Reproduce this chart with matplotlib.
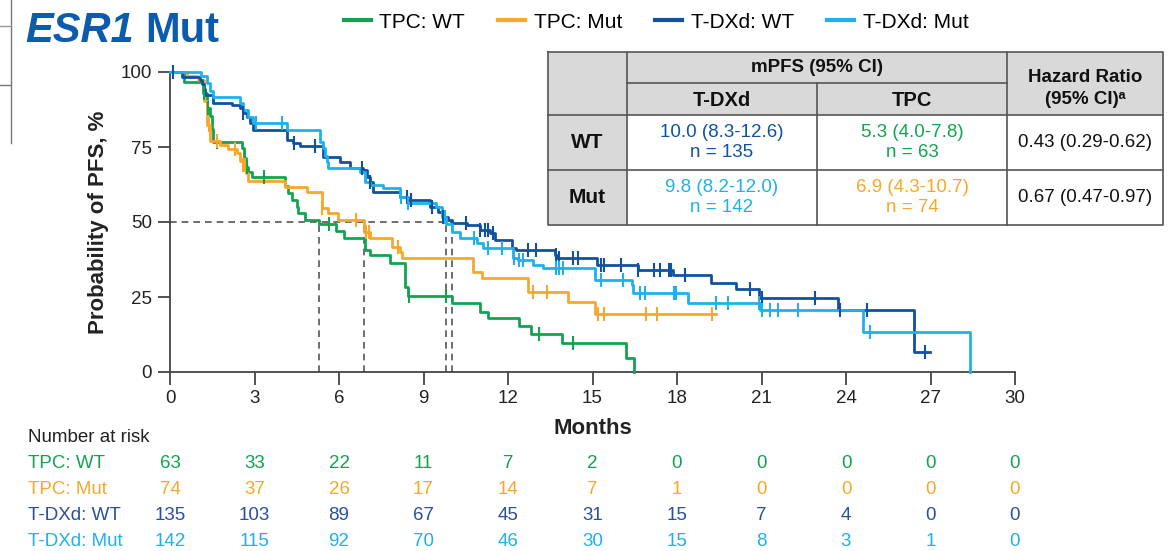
import matplotlib
import numpy as np

matplotlib.use("Agg")
import matplotlib.pyplot as plt
from matplotlib.patches import Rectangle
from matplotlib.lines import Line2D
from matplotlib.transforms import blended_transform_factory

plt.rcParams["font.family"] = ["Liberation Sans", "DejaVu Sans"]

GREEN = "#12a350"
ORANGE = "#f8a828"
DBLUE = "#1152a0"
LBLUE = "#1eb1ea"
TITLE_BLUE = "#0c5cad"

# Kaplan-Meier step data (months, % PFS)
tpc_wt_t = [0, 0.5, 1.16, 1.3, 1.42, 1.48, 1.54, 2.54, 2.62, 2.7, 2.78, 2.9, 4.08, 4.2, 4.32, 4.5, 4.56,
            4.8, 5.3, 5.9, 6.16, 6.92, 7.1, 7.8, 8.34, 8.46, 10.0, 11.0, 11.3, 12.4, 12.8, 13.9, 16.2, 16.47]
tpc_wt_s = [100, 96.8, 92.9, 87.9, 85.5, 81.1, 76.8, 74.6, 71.4, 68.3, 66.7, 65.1, 61.9, 59.6, 57.3, 55.1, 52.9,
            50.7, 49.2, 47.0, 44.8, 40.7, 38.9, 36.2, 28.4, 25.3, 22.9, 20.1, 17.9, 15.4, 12.7, 9.6, 4.6, 0]
tpc_wt_end = 16.47
tpc_wt_cens = [1.2, 1.35, 1.66, 2.66, 2.75, 3.34, 5.65, 8.5, 9.8, 13.1, 14.3]

tpc_mut_t = [0, 0.6, 1.0, 1.2, 1.3, 1.42, 1.78, 2.07, 2.37, 2.48, 2.6, 2.7, 2.78, 4.08, 4.85, 5.38, 5.62,
             5.98, 6.9, 7.1, 7.87, 8.16, 8.22, 10.77, 11.07, 12.72, 14.14, 15.09]
tpc_mut_s = [100, 98.6, 97.3, 90.5, 82.4, 77.0, 75.7, 74.3, 73.0, 70.3, 68.9, 66.2, 63.8, 61.8, 60.1, 54.6, 52.9,
             50.7, 46.8, 44.6, 41.8, 40.1, 38.1, 33.4, 31.2, 26.8, 23.4, 19.2]
tpc_mut_end = 19.4
tpc_mut_cens = [1.4, 1.66, 2.3, 2.6, 2.68, 5.4, 6.6, 6.95, 7.05, 8.1, 12.9, 13.4, 15.2, 15.4, 16.9, 17.3, 19.25]

tdxd_wt_t = [0, 0.41, 1.06, 1.12, 1.2, 1.24, 1.54, 2.19, 2.48, 2.6, 2.72, 2.84, 2.94, 4.14, 4.38, 4.6, 5.44,
             6.03, 6.39, 6.86, 6.98, 7.1, 7.22, 8.16, 8.46, 9.23, 9.52, 9.7, 9.88, 10.0, 10.53, 11.0, 11.36,
             11.54, 12.13, 12.3, 13.67, 13.73, 15.15, 16.6, 17.87, 19.2, 20.1, 20.9, 23.7, 26.4]
tdxd_wt_s = [100, 98.4, 97.5, 96.0, 94.5, 92.3, 89.6, 88.9, 88.0, 86.2, 85.0, 82.9, 80.7, 77.3, 76.2, 75.3, 71.8,
             70.0, 67.9, 67.2, 65.1, 63.2, 60.1, 58.4, 57.3, 55.1, 53.5, 51.8, 50.7, 49.8, 49.0, 47.5, 46.2,
             44.0, 41.2, 40.8, 39.0, 37.9, 35.7, 34.0, 32.3, 29.8, 27.6, 24.6, 20.7, 6.8]
tdxd_wt_end = 26.98
tdxd_wt_cens = [0.1, 2.6, 4.4, 5.15, 6.8, 7.1, 8.4, 8.55, 9.3, 9.7, 10.5, 11.0, 11.2, 11.3, 11.45, 12.7, 13.0,
                13.7, 13.8, 14.3, 14.5, 15.3, 15.4, 16.0, 16.6, 17.2, 17.4, 17.7, 17.8, 18.3, 20.6, 21.0,
                22.9, 23.8, 24.75, 26.8]

tdxd_mut_t = [0, 1.1, 1.3, 1.42, 1.54, 2.48, 2.6, 2.78, 2.95, 4.14, 5.32, 5.44, 5.5, 5.56, 5.62, 6.74, 6.92,
              7.1, 7.55, 8.16, 8.4, 9.46, 9.65, 9.8, 10.0, 10.3, 10.9, 11.1, 12.19, 12.35, 12.9, 13.25,
              15.09, 16.4, 16.45, 18.4, 20.94, 24.6, 28.4]
tdxd_mut_s = [100, 98.6, 96.5, 93.6, 91.8, 89.6, 87.3, 85.0, 83.1, 80.7, 76.8, 74.6, 72.0, 69.9, 67.9, 66.8, 63.4,
              62.3, 61.2, 58.4, 56.2, 55.1, 51.8, 49.4, 46.8, 44.6, 42.9, 41.2, 37.9, 37.2, 35.7, 34.6,
              30.7, 29.0, 26.4, 22.9, 20.7, 13.4, 0]
tdxd_mut_end = 28.4
tdxd_mut_cens = [3.07, 3.96, 8.2, 8.45, 9.76, 10.8, 11.3, 11.8, 12.2, 12.4, 12.55, 13.7, 13.8, 13.95, 15.3,
                 16.1, 16.7, 16.85, 17.9, 17.95, 19.4, 19.8, 20.9, 21.0, 21.3, 21.6, 22.3, 24.85]

medians = [5.3, 6.9, 9.8, 10.0]

series_labels = ["TPC: WT", "TPC: Mut", "T-DXd: WT", "T-DXd: Mut"]

risk_months = [0, 3, 6, 9, 12, 15, 18, 21, 24, 27, 30]
risk_tpc_wt = [63, 33, 22, 11, 7, 2, 0, 0, 0, 0, 0]
risk_tpc_mut = [74, 37, 26, 17, 14, 7, 1, 0, 0, 0, 0]
risk_tdxd_wt = [135, 103, 89, 67, 45, 31, 15, 7, 4, 0, 0]
risk_tdxd_mut = [142, 115, 92, 70, 46, 30, 15, 8, 3, 1, 0]

table_cols = ["T-DXd", "TPC"]
table_rows = ["WT", "Mut"]
table_tdxd = ["10.0 (8.3-12.6)\nn = 135", "9.8 (8.2-12.0)\nn = 142"]
table_tpc = ["5.3 (4.0-7.8)\nn = 63", "6.9 (4.3-10.7)\nn = 74"]
table_hr = ["0.43 (0.29-0.62)", "0.67 (0.47-0.97)"]

W, H = 1170, 551
fig = plt.figure(figsize=(W / 100, H / 100), dpi=100)


def px(x, y):
    return x / W, 1 - y / H


ax = fig.add_axes([170 / W, 1 - 372 / H, (1015 - 170) / W, (372 - 72) / H])


def surv_at(times, surv, t):
    idx = np.searchsorted(np.array(times), t, side="right") - 1
    return np.array(surv)[idx]


curves = [
    (tpc_wt_t, tpc_wt_s, tpc_wt_end, tpc_wt_cens, GREEN),
    (tpc_mut_t, tpc_mut_s, tpc_mut_end, tpc_mut_cens, ORANGE),
    (tdxd_wt_t, tdxd_wt_s, tdxd_wt_end, tdxd_wt_cens, DBLUE),
    (tdxd_mut_t, tdxd_mut_s, tdxd_mut_end, tdxd_mut_cens, LBLUE),
]

# median guide lines
for m in medians:
    ax.plot([m, m], [0, 50], ls=(0, (4, 3)), color="#555555", lw=1.2, zorder=1)
ax.plot([0, max(medians)], [50, 50], ls=(0, (4, 3)), color="#555555", lw=1.2, zorder=1)

handles = []
for t, s, end, cens, col in curves:
    tt = list(t) + [end]
    ss = list(s) + [s[-1]]
    (ln,) = ax.step(tt, ss, where="post", color=col, lw=2, clip_on=False, zorder=3)
    ax.plot(cens, surv_at(t, s, cens), ls="none", marker="|", ms=10, mew=1.5, color=col,
            clip_on=False, zorder=4)
    handles.append(Line2D([], [], color=col, lw=3))

ax.set_xlim(0, 30)
ax.set_ylim(0, 100)
ax.set_xticks(risk_months)
ax.set_yticks([0, 25, 50, 75, 100])
for sp in ["top", "right"]:
    ax.spines[sp].set_visible(False)
for sp in ["left", "bottom"]:
    ax.spines[sp].set_color("#444444")
    ax.spines[sp].set_linewidth(1.3)
ax.tick_params(axis="both", length=9, width=1.3, color="#444444", labelsize=13.5,
               labelcolor="#222222", pad=4)
ax.set_xlabel("Months", fontsize=16, fontweight="bold", color="#222222", labelpad=8)
ax.set_ylabel("Probability of PFS, %", fontsize=16, fontweight="bold", color="#222222", labelpad=8)

# title
t1 = fig.text(*px(25, 42), "ESR1", fontsize=30, fontweight="bold", fontstyle="italic",
              color=TITLE_BLUE, va="baseline")
fig.canvas.draw()
bb = t1.get_window_extent()
fig.text(bb.x1 / W + 12 / W, 1 - 42 / H, "Mut", fontsize=30, fontweight="bold", color=TITLE_BLUE,
         va="baseline")

# legend
fig.legend(handles, series_labels, ncol=4, loc="center", bbox_to_anchor=px(656, 22), frameon=False,
           fontsize=15, handlelength=1.3, handletextpad=0.4, columnspacing=1.6)

# overlay for table and decorations in pixel coordinates
ov = fig.add_axes([0, 0, 1, 1], zorder=10)
ov.set_xlim(0, W)
ov.set_ylim(H, 0)
ov.axis("off")
ov.patch.set_alpha(0)

# stray frame bits at the left edge
ov.plot([11, 11], [0, 143], color="#777777", lw=1)
ov.plot([0, 11], [26, 26], color="#999999", lw=1)
ov.plot([0, 11], [85, 85], color="#777777", lw=1)

xe = [548, 627, 817, 1007, 1163]
ye = [52, 83, 115, 170, 225]
GRAY = "#d9d9d9"
ov.add_patch(Rectangle((xe[0], ye[0]), xe[4] - xe[0], ye[2] - ye[0], fc=GRAY, ec="none"))
ov.add_patch(Rectangle((xe[0], ye[2]), xe[1] - xe[0], ye[4] - ye[2], fc=GRAY, ec="none"))
ov.add_patch(Rectangle((xe[1], ye[2]), xe[4] - xe[1], ye[4] - ye[2], fc="white", ec="none"))
lc = "#555555"
lw = 1.2
ov.plot([xe[0], xe[4], xe[4], xe[0], xe[0]], [ye[0], ye[0], ye[4], ye[4], ye[0]], color=lc, lw=lw)
ov.plot([xe[1], xe[1]], [ye[0], ye[4]], color=lc, lw=lw)
ov.plot([xe[3], xe[3]], [ye[0], ye[4]], color=lc, lw=lw)
ov.plot([xe[2], xe[2]], [ye[1], ye[4]], color=lc, lw=lw)
ov.plot([xe[1], xe[3]], [ye[1], ye[1]], color=lc, lw=lw)
ov.plot([xe[0], xe[4]], [ye[2], ye[2]], color=lc, lw=lw)
ov.plot([xe[0], xe[4]], [ye[3], ye[3]], color=lc, lw=lw)

ov.text((xe[1] + xe[3]) / 2, (ye[0] + ye[1]) / 2, "mPFS (95% CI)", ha="center", va="center",
        fontsize=13.5, fontweight="bold", color="#111111")
for i, c in enumerate(table_cols):
    ov.text((xe[1 + i] + xe[2 + i]) / 2, (ye[1] + ye[2]) / 2 + 1, c, ha="center", va="center",
            fontsize=14.5, fontweight="bold", color="#111111")
ov.text((xe[3] + xe[4]) / 2, ye[0] + 25, "Hazard Ratio", ha="center", va="center",
        fontsize=13.5, fontweight="bold", color="#111111")
ov.text((xe[3] + xe[4]) / 2, ye[0] + 47, "(95% CI)\u1d43", ha="center", va="center",
        fontsize=13.5, fontweight="bold", color="#111111")

tdxd_cols = [DBLUE, LBLUE]
tpc_cols = [GREEN, ORANGE]
for r, lab in enumerate(table_rows):
    yc = (ye[2 + r] + ye[3 + r]) / 2
    ov.text((xe[0] + xe[1]) / 2, yc, lab, ha="center", va="center", fontsize=15, fontweight="bold",
            color="#111111")
    ov.text((xe[1] + xe[2]) / 2, yc, table_tdxd[r], ha="center", va="center", fontsize=13.5,
            color=tdxd_cols[r], linespacing=1.25)
    ov.text((xe[2] + xe[3]) / 2, yc, table_tpc[r], ha="center", va="center", fontsize=13.5,
            color=tpc_cols[r], linespacing=1.25)
    ov.text((xe[3] + xe[4]) / 2, yc, table_hr[r], ha="center", va="center", fontsize=13.5,
            color="#111111")

# number at risk
tr = blended_transform_factory(ax.transData, ov.transData)
ov.text(28, 438, "Number at risk", ha="left", va="center", fontsize=13.5, color="#222222")
risk_rows = [risk_tpc_wt, risk_tpc_mut, risk_tdxd_wt, risk_tdxd_mut]
risk_cols = [GREEN, ORANGE, "#2a4f9f", LBLUE]
for k, (lab, vals, col) in enumerate(zip(series_labels, risk_rows, risk_cols)):
    y = 463 + k * 26.3
    ov.text(28, y, lab, ha="left", va="center", fontsize=13.5, color=col)
    for m, v in zip(risk_months, vals):
        ov.text(m, y, str(v), transform=tr, ha="center", va="center", fontsize=13.5, color=col)

fig.savefig("out.png", dpi=100)
